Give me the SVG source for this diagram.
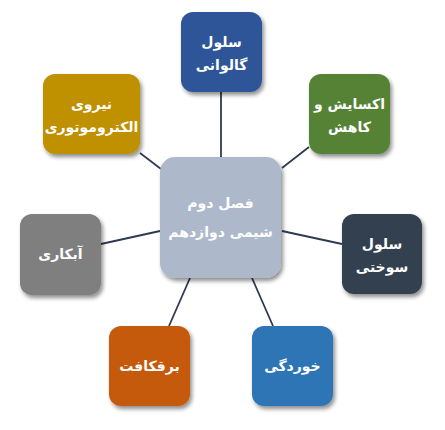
<svg xmlns="http://www.w3.org/2000/svg" width="445" height="430" viewBox="0 0 445 430">
<defs>
<filter id="sh" x="-20%" y="-20%" width="150%" height="150%">
<feGaussianBlur in="SourceAlpha" stdDeviation="2"/>
<feOffset dx="2" dy="3" result="b"/>
<feComponentTransfer><feFuncA type="linear" slope="0.45"/></feComponentTransfer>
<feMerge><feMergeNode/><feMergeNode in="SourceGraphic"/></feMerge>
</filter>
</defs>
<style>
.box{filter:url(#sh);}
.t{font-family:"DejaVu Sans",sans-serif;font-size:14px;font-weight:bold;fill:#ffffff;text-anchor:middle;}
.c{stroke:#2e3a50;stroke-width:1.8;fill:none;}
</style>
<rect width="445" height="430" fill="#ffffff"/>
<g id="connectors">
<line class="c" x1="221" y1="92" x2="221" y2="157"/>
<line class="c" x1="282" y1="168" x2="309" y2="147"/>
<line class="c" x1="282" y1="231" x2="342" y2="244"/>
<line class="c" x1="252" y1="278" x2="273" y2="326"/>
<line class="c" x1="190" y1="278" x2="169" y2="326"/>
<line class="c" x1="101" y1="244" x2="160" y2="231"/>
<line class="c" x1="140" y1="153" x2="161" y2="169"/>
</g>
<g id="center">
<rect class="box" x="160" y="157" width="121" height="121" rx="15" fill="#adb9ca"/>
<text class="t" x="220.5" y="208" direction="rtl">فصل دوم</text>
<text class="t" x="220.5" y="237" direction="rtl">شیمی دوازدهم</text>
</g>
<g id="galvani">
<rect class="box" x="181" y="12" width="81" height="80" rx="12" fill="#2f5597"/>
<text class="t" x="221.5" y="47" direction="rtl">سلول</text>
<text class="t" x="221.5" y="70" direction="rtl">گالوانی</text>
</g>
<g id="redox">
<rect class="box" x="309" y="74" width="81" height="80" rx="12" fill="#548235"/>
<text class="t" x="349.5" y="109" direction="rtl">اکسایش و</text>
<text class="t" x="349.5" y="132" direction="rtl">کاهش</text>
</g>
<g id="fuelcell">
<rect class="box" x="342" y="214" width="80" height="80" rx="12" fill="#333f50"/>
<text class="t" x="382" y="249" direction="rtl">سلول</text>
<text class="t" x="382" y="272" direction="rtl">سوختی</text>
</g>
<g id="corrosion">
<rect class="box" x="252" y="326" width="81" height="80" rx="12" fill="#2e75b6"/>
<text class="t" x="292.5" y="371" direction="rtl">خوردگی</text>
</g>
<g id="electrolysis">
<rect class="box" x="109" y="326" width="81" height="80" rx="12" fill="#c55a11"/>
<text class="t" x="149.5" y="371" direction="rtl">برقکافت</text>
</g>
<g id="plating">
<rect class="box" x="20" y="214" width="81" height="81" rx="12" fill="#7f7f7f"/>
<text class="t" x="60.5" y="259" direction="rtl">آبکاری</text>
</g>
<g id="emf">
<rect class="box" x="43" y="74" width="97" height="80" rx="12" fill="#bf9000"/>
<text class="t" x="91.5" y="109" direction="rtl">نیروی</text>
<text class="t" x="91.5" y="132" direction="rtl">الکتروموتوری</text>
</g>
</svg>
